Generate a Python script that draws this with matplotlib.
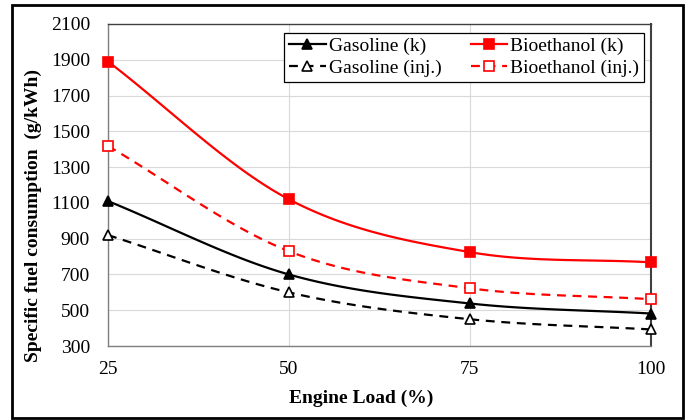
import numpy as np
import matplotlib
matplotlib.use("Agg")
import matplotlib.pyplot as plt
from matplotlib.lines import Line2D
from matplotlib.patches import Rectangle

plt.rcParams['font.family'] = ['Liberation Serif', 'DejaVu Serif']

load = [25, 50, 75, 100]
gasoline_k = [1110, 700, 538, 482]
bioethanol_k = [1890, 1120, 825, 768]
gasoline_inj = [920, 600, 450, 393]
bioethanol_inj = [1418, 830, 623, 562]

series_labels = ["Gasoline (k)", "Bioethanol (k)", "Gasoline (inj.)", "Bioethanol (inj.)"]
yticks = [300, 500, 700, 900, 1100, 1300, 1500, 1700, 1900, 2100]
xticks = [25, 50, 75, 100]


def smooth(x, y, n=40):
    # Catmull-Rom style smoothing (like Excel's smoothed line)
    x = np.asarray(x, float); y = np.asarray(y, float)
    px = np.concatenate([[2*x[0]-x[1]], x, [2*x[-1]-x[-2]]])
    py = np.concatenate([[2*y[0]-y[1]], y, [2*y[-1]-y[-2]]])
    xs, ys = [], []
    for i in range(1, len(px)-2):
        t = np.linspace(0, 1, n, endpoint=(i == len(px)-3))
        p0, p1, p2, p3 = [np.array([px[j], py[j]]) for j in range(i-1, i+3)]
        t2 = t*t; t3 = t2*t
        pts = 0.5*((2*p1)[:, None] + (-p0+p2)[:, None]*t + (2*p0-5*p1+4*p2-p3)[:, None]*t2
                   + (-p0+3*p1-3*p2+p3)[:, None]*t3)
        xs.append(pts[0]); ys.append(pts[1])
    return np.concatenate(xs), np.concatenate(ys)


fig = plt.figure(figsize=(6.88, 4.2), dpi=100)
ax = fig.add_axes([0.157, 0.176, 0.789, 0.767])

styles = [
    (gasoline_k, 'black', '-', '^', 'black'),
    (bioethanol_k, 'red', '-', 's', 'red'),
    (gasoline_inj, 'black', (0, (4, 3)), '^', 'white'),
    (bioethanol_inj, 'red', (0, (4, 3)), 's', 'white'),
]
handles = []
for (vals, col, ls, mk, mfc), lab in zip(styles, series_labels):
    sx, sy = smooth(load, vals)
    ax.plot(sx, sy, color=col, lw=1.6, ls=ls, zorder=3)
    ax.plot(load, vals, ls='none', marker=mk, ms=6.5, mfc=mfc, mec=col, mew=1.2, zorder=4, clip_on=False)
    handles.append(Line2D([], [], color=col, lw=1.6, ls=ls, marker=mk, ms=6.5, mfc=mfc, mec=col, mew=1.2))

ax.set_xlim(25, 100)
ax.set_ylim(300, 2100)
ax.set_xticks(xticks)
ax.set_yticks(yticks)
ax.grid(True, color='#d9d9d9', lw=0.8, zorder=0)
ax.tick_params(axis='both', labelsize=14, length=0)
ax.tick_params(axis='y', pad=13)
ax.tick_params(axis='x', pad=11)
for s in ['left', 'bottom', 'top']:
    ax.spines[s].set_color('#7f7f7f')
    ax.spines[s].set_linewidth(1.0)
ax.spines['right'].set_color('#404040')
ax.spines['right'].set_linewidth(1.5)
ax.spines['top'].set_color('#404040')

ax.set_xlabel('Engine Load (%)', fontsize=14, fontweight='bold')
ax.set_ylabel('Specific fuel consumption  (g/kWh)', fontsize=14, fontweight='bold')
ax.xaxis.set_label_coords(0.466, -0.134)
ax.yaxis.set_label_coords(-0.1215, 0.404)

order = [0, 2, 1, 3]
leg = ax.legend([handles[i] for i in order], [series_labels[i] for i in order], ncol=2,
                loc='upper right', bbox_to_anchor=(0.995, 0.985),
                fontsize=14, frameon=True, fancybox=False, edgecolor='black', framealpha=1,
                handlelength=1.9, columnspacing=1.5, handletextpad=0.15, borderpad=0.25,
                labelspacing=0.2, borderaxespad=0.2)
leg.get_frame().set_linewidth(0.9)

fig.patches.append(Rectangle((12/688, 2/420), 671/688, 413/420, transform=fig.transFigure,
                             fill=False, edgecolor='black', lw=2))

fig.savefig('out.png', dpi=100)
